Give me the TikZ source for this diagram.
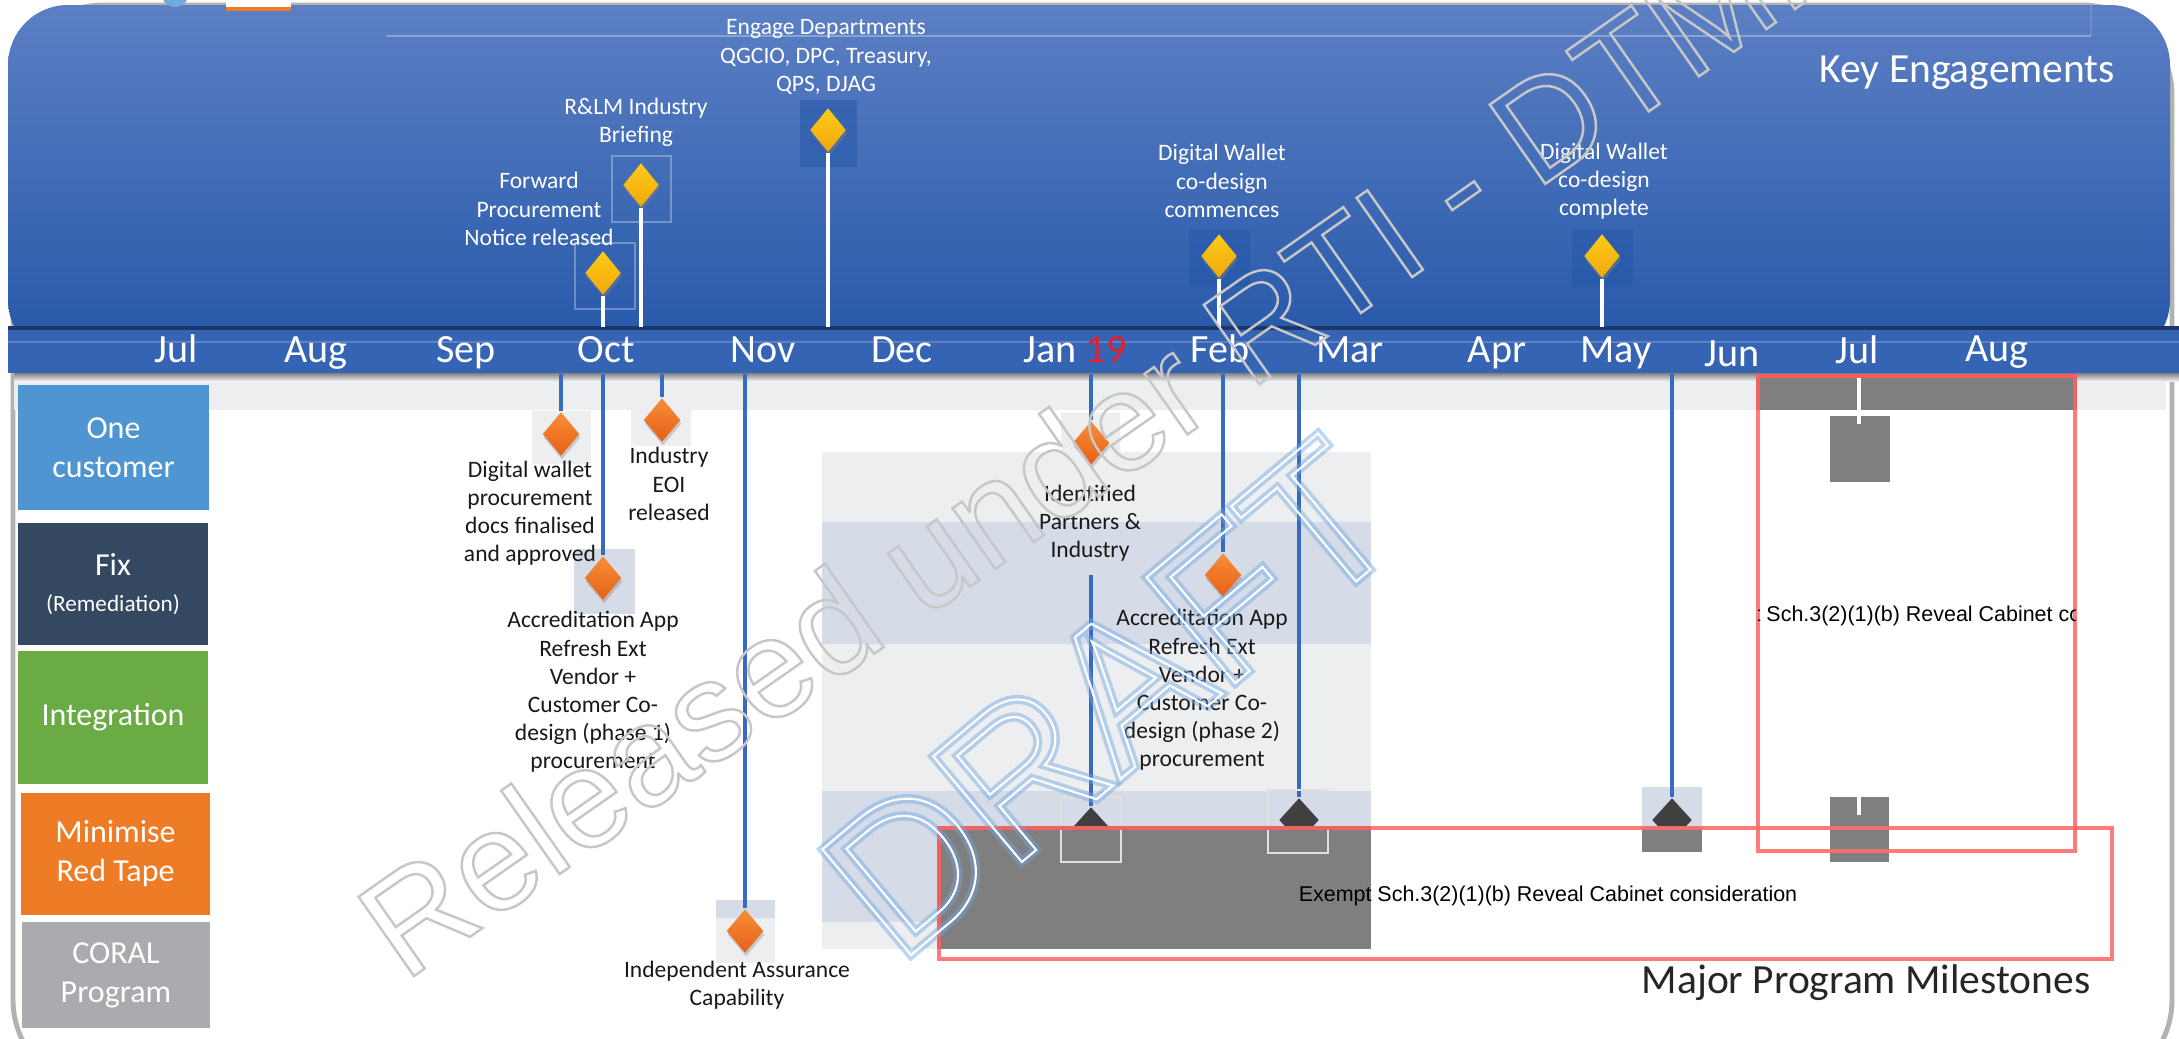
\documentclass[tikz,border=0pt]{standalone}
\usepackage{fontspec}
\setmainfont{Carlito}
\newfontfamily\arialfont{Liberation Sans}
\usetikzlibrary{shapes.geometric,shadows}
\definecolor{hdtop}{RGB}{92,127,196}
\definecolor{hdbot}{RGB}{36,87,168}
\definecolor{band}{RGB}{53,100,181}
\definecolor{bandline}{RGB}{28,54,104}
\definecolor{ygold}{RGB}{253,203,24}
\definecolor{ydark}{RGB}{240,168,12}
\definecolor{otop}{RGB}{247,142,54}
\definecolor{obot}{RGB}{230,96,24}
\definecolor{linkblue}{RGB}{58,106,192}
\definecolor{paleg}{RGB}{236,238,239}
\definecolor{paleb}{RGB}{213,220,232}
\definecolor{redact}{RGB}{127,127,127}
\definecolor{redline}{RGB}{255,108,108}
\definecolor{catblue}{RGB}{78,149,210}
\definecolor{catslate}{RGB}{52,73,97}
\definecolor{catgreen}{RGB}{106,171,68}
\definecolor{catorange}{RGB}{238,123,37}
\definecolor{catgrey}{RGB}{169,171,174}
\definecolor{janred}{RGB}{232,30,40}
\definecolor{glowblue}{RGB}{112,166,226}
\newcommand\strokeon[1]{\special{pdf:literal direct 1 Tr #1 w}}
\newcommand\strokeoff{\special{pdf:literal direct 0 Tr}}
\begin{document}
\begin{tikzpicture}[x=0.01cm,y=-0.01cm,
  month/.style={anchor=base,text=white,inner sep=0pt,font=\fontsize{11.4}{13}\selectfont},
  hlbl/.style={align=center,text=white,inner sep=0pt,font=\fontsize{6.7}{8}\selectfont},
  lbl/.style={align=center,text=black!90,inner sep=0pt,font=\fontsize{6.7}{8}\selectfont},
  catbox/.style={align=center,text=white,inner sep=0pt,font=\fontsize{9.1}{11.1}\selectfont},
  ymile/.style={diamond,minimum width=0.36cm,minimum height=0.44cm,inner sep=0pt,
    top color=ygold,bottom color=ydark,drop shadow={shadow xshift=0.3pt,shadow yshift=-1pt,opacity=0.45}},
  omile/.style={diamond,minimum width=0.37cm,minimum height=0.44cm,inner sep=0pt,
    top color=otop,bottom color=obot,drop shadow={shadow xshift=0.3pt,shadow yshift=-1pt,opacity=0.35}},
  dmile/.style={diamond,minimum width=0.40cm,minimum height=0.44cm,inner sep=0pt,fill=black!75},
  stem/.style={white,line width=1pt},
  link/.style={linkblue,line width=1.1pt},
  hint/.style={draw=white,draw opacity=0.3,line width=0.4pt},
  redbox/.style={draw=redline,line width=0.9pt,opacity=0.9},
  extxt/.style={inner sep=0pt,text=black,font=\arialfont\fontsize{6.1}{7}\selectfont},
  wmark/.style={inner sep=0pt,font=\arialfont\fontsize{40}{40}\selectfont}]
\useasboundingbox (0,0) rectangle (2179,1038);
\clip (0,0) rectangle (2179,1038);
\fill[white] (0,0) rectangle (2179,1038);
\draw[black!30,fill=white,line width=1.4pt,rounded corners=0.9cm] (13,5) rectangle (2172,1090);
\begin{scope}
\clip (0,0) rectangle (2179,328);
\shade[top color=hdtop,bottom color=hdbot,rounded corners=0.6cm] (8,5) rectangle (2170,360);
\end{scope}
\fill[white] (226,0) rectangle (291,7);
\fill[catorange] (226,7) rectangle (291,11);
\fill[catblue!80] (175,-7) circle (14);
\draw[white,opacity=0.3,line width=0.4pt] (386,36) -- (2091,36);
\draw[white,opacity=0.12,line width=0.4pt] (2091,36) -- (2091,5);
\fill[band] (8,328) rectangle (2179,373);
\draw[white,opacity=0.2,line width=0.4pt] (8,342) -- (2179,342);
\draw[bandline,line width=1.2pt] (8,328) -- (2179,328);
\fill[paleg] (14,373) rectangle (2166,410);
\shade[top color=black!50,bottom color=paleg] (14,373) rectangle (2179,381);
\fill[paleg] (822,452) rectangle (1371,949);
\fill[paleb] (822,522) rectangle (1371,644);
\fill[paleb] (822,791) rectangle (1371,922);
\node[month] (mjul) at (176,362) {Jul};
\node[month] (maug) at (316,362) {Aug};
\node[month] (msep) at (466,362) {Sep};
\node[month] (moct) at (606,362) {Oct};
\node[month] (mnov) at (763,362) {Nov};
\node[month] (mdec) at (902,362) {Dec};
\node[month] (mjan) at (1075,362) {Jan {\color{janred}19}};
\node[month] (mfeb) at (1220,362) {Feb};
\node[month] (mmar) at (1350,362) {Mar};
\node[month] (mapr) at (1497,362) {Apr};
\node[month] (mmay) at (1616,362) {May};
\node[month] (mjun) at (1732,366) {Jun};
\node[month] (mjul2) at (1857,363) {Jul};
\node[month] (maug2) at (1997,361) {Aug};
\node[anchor=base west,inner sep=0pt,text=white,font=\fontsize{11.8}{14}\selectfont] (keyeng) at (1819,82) {Key Engagements};
\node[anchor=base west,inner sep=0pt,text=black!85,font=\fontsize{11.8}{14}\selectfont] (majmil) at (1641,993) {Major Program Milestones};
\node[catbox,fill=catblue,minimum width=1.91cm,minimum height=1.25cm] (onecust) at (113.5,447.5) {One\\customer};
\node[catbox,fill=catslate,minimum width=1.90cm,minimum height=1.22cm] (fixrem) at (113,584) {Fix\\[-1pt]{\fontsize{6.6}{8}\selectfont(Remediation)}};
\node[catbox,fill=catgreen,minimum width=1.90cm,minimum height=1.33cm] (integ) at (113,717.5) {Integration};
\node[catbox,fill=catorange,minimum width=1.89cm,minimum height=1.22cm] (redtape) at (115.5,854) {Minimise\\Red Tape};
\node[catbox,fill=catgrey,minimum width=1.88cm,minimum height=1.06cm] (coral) at (116,975) {CORAL\\Program};
\draw[hint] (575,243) rectangle (635,309);
\draw[hint] (612,156) rectangle (671,222);
\fill[hdbot,opacity=0.5] (800,100) rectangle (857,167);
\fill[hdbot,opacity=0.5] (1189,230) rectangle (1250,287);
\fill[hdbot,opacity=0.5] (1572,230) rectangle (1633,287);
\fill[paleg] (532,411) rectangle (591,464);
\fill[paleg] (631,390) rectangle (691,446);
\fill[paleb] (574,549) rectangle (635,614);
\fill[paleg] (716,900) rectangle (775,963);
\fill[paleb] (716,900) rectangle (775,918);
\fill[paleg] (1061,413) rectangle (1120,480);
\fill[paleb] (1642,787) rectangle (1702,827);
\coordinate (bartop) at (0,327);
\coordinate (barbot) at (0,374);
\node[ymile] (fpn) at (603,273) {};
\node[ymile] (rlm) at (641,185) {};
\node[ymile] (eng) at (828,130) {};
\node[ymile] (dwc) at (1219,256) {};
\node[ymile] (dwd) at (1602,256) {};
\foreach \n in {fpn,rlm,eng,dwc,dwd}
  \draw[stem] (\n.south) -- (\n.south |- bartop);
\node[hlbl] (fpnlbl) at (539,209) {Forward\\Procurement\\Notice released};
\node[hlbl] (rlmlbl) at (636,122) {R\&LM Industry\\Briefing};
\node[hlbl] (englbl) at (826,57) {Engage Departments\\QGCIO, DPC, Treasury,\\QPS, DJAG};
\node[hlbl] (dwclbl) at (1222,181) {Digital Wallet\\co-design\\commences};
\node[hlbl] (dwdlbl) at (1604,181) {Digital Wallet\\co-design\\complete};
\node[dmile] (idpend) at (1091,829) {};
\node[dmile] (marend) at (1299,820) {};
\node[dmile] (mayend) at (1672,820) {};
\node[omile] (dwp) at (561,434) {};
\node[omile] (acc1) at (603,578) {};
\node[omile] (eoi) at (662,420) {};
\node[omile] (ias) at (745,931) {};
\node[omile] (idp) at (1091,443) {};
\node[omile] (acc2) at (1223,575) {};
\foreach \n in {dwp,acc1,eoi,ias,idp,acc2,marend,mayend}
  \draw[link] (\n.north |- barbot) -- (\n.north);
\coordinate (idpfoot) at (1091,575);
\draw[link] (idpfoot) -- (idpend.north);
\node[lbl] (dwplbl) at (530,513) {Digital wallet\\procurement\\docs finalised\\and approved};
\node[lbl] (eoilbl) at (669,484) {Industry\\EOI\\released};
\node[lbl] (acc1lbl) at (593,692) {Accreditation App\\Refresh Ext\\Vendor +\\Customer Co-\\design (phase 1)\\procurement};
\node[lbl] (iaslbl) at (737,985) {Independent Assurance\\Capability};
\node[lbl] (idplbl) at (1090,523) {Identified\\Partners \&\\Industry};
\node[lbl] (acc2lbl) at (1202,690) {Accreditation App\\Refresh Ext\\Vendor +\\Customer Co-\\design (phase 2)\\procurement};
\fill[redact] (939,828) rectangle (1371,949);
\fill[redact] (1642,827) rectangle (1702,852);
\draw[black!12,line width=0.4pt] (1061,797) rectangle (1121,862);
\draw[black!12,line width=0.4pt] (1268,790) rectangle (1328,853);
\fill[redact] (1758,376) rectangle (2075,410);
\fill[redact] (1830,416) rectangle (1890,482);
\fill[redact] (1830,797) rectangle (1889,862);
\draw[white,line width=1pt] (1859,376) -- (1859,424);
\draw[white,line width=1pt] (1859,797) -- (1859,815);
\draw[red!50!black,line width=1pt] (939,949) -- (939,828) -- (1371,828);
\draw[red!50!black,line width=1pt] (1758,410) -- (1758,376) -- (2075,376) -- (2075,410);
\draw[redbox] (939,828) rectangle (2112,959);
\draw[redbox] (1758,376) rectangle (2075,851);
\node[extxt] (exempt) at (1548,896) {Exempt Sch.3(2)(1)(b) Reveal Cabinet consideration};
\begin{scope}
\clip (1758,376) rectangle (2075,851);
\node[extxt] (exempt2) at (1937,616) {Exempt Sch.3(2)(1)(b) Reveal Cabinet consideration};
\end{scope}
\node[wmark,anchor=base west,rotate=35,text=black!22] (relwm) at (404,983) {\strokeon{0.7}Released under RTI - DTMR\strokeoff};
\node[wmark,rotate=40,text=glowblue,opacity=0.45,font=\arialfont\fontsize{57}{57}\selectfont] (draftglow) at (1110,698) {\strokeon{2.6}DRAFT\strokeoff};
\node[wmark,rotate=40,text=white,font=\arialfont\fontsize{57}{57}\selectfont] (draft) at (1110,698) {\strokeon{0.6}DRAFT\strokeoff};
\end{tikzpicture}
\end{document}
